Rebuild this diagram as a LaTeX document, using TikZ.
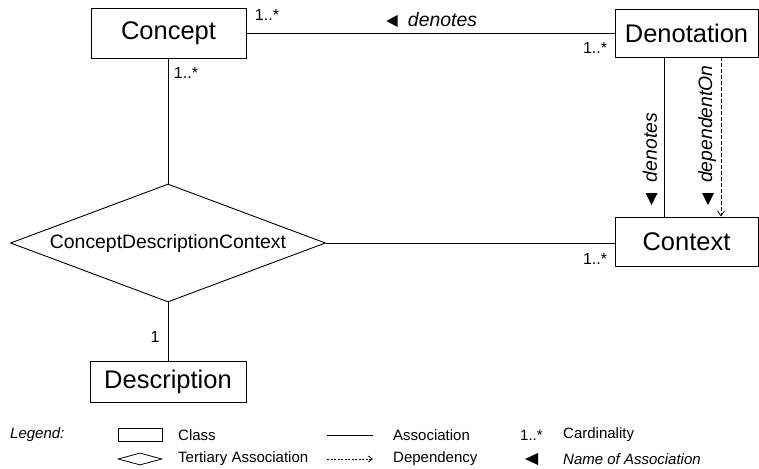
\documentclass[tikz,border=0pt]{standalone}
\usepackage{fontspec}
\setmainfont{Liberation Sans}
\usetikzlibrary{shapes.geometric,arrows.meta}
\tikzset{
  classbox/.style={draw,line width=0.9pt,fill=white,inner sep=0pt,font=\fontsize{25.5}{30}\selectfont},
  card/.style={inner sep=0pt,font=\fontsize{16}{19}\selectfont},
  assocname/.style={inner sep=0pt,font=\fontsize{19.4}{23}\selectfont\itshape},
  legtext/.style={inner sep=0pt,anchor=west,font=\fontsize{15}{18}\selectfont},
  assoc/.style={line width=0.9pt},
  dep/.style={line width=0.9pt,dash pattern=on 4pt off 2pt,-{Straight Barb[length=5pt,width=7pt,line width=0.8pt]}},
  legdep/.style={line width=0.9pt,dash pattern=on 2pt off 1.5pt,-{Straight Barb[length=4pt,width=6pt,line width=0.8pt]}},
}
\begin{document}
\begin{tikzpicture}[x=1pt,y=-1pt]
\useasboundingbox (0,0) rectangle (759,468);
% classes
\node[classbox,minimum width=155pt,minimum height=50pt] (concept) at (168.5,33) {Concept};
\node[classbox,minimum width=143pt,minimum height=48pt] (denot) at (686.5,33) {Denotation};
\node[classbox,minimum width=143pt,minimum height=49pt] (context) at (686.5,241.5) {Context};
\node[classbox,minimum width=156pt,minimum height=41pt] (descr) at (168,381.5) {Description};
\node[draw,line width=0.9pt,diamond,aspect=2.67,inner sep=0pt,minimum width=315pt,minimum height=118pt,
      font=\fontsize{19.4}{23}\selectfont] (cdc) at (168,243) {ConceptDescriptionContext};
% helper coordinates
\coordinate (xa) at (664,0);
\coordinate (xd) at (721,0);
% connectors
\draw[assoc] (concept.east) -- (denot.west);
\draw[assoc] (concept.south -| cdc.north) -- (cdc.north);
\draw[assoc] (cdc.south) -- (descr.north);
\draw[assoc] (cdc.east) -- (cdc.east -| context.west);
\draw[assoc] (denot.south -| xa) -- (context.north -| xa);
\draw[dep] (denot.south -| xd) -- (context.north -| xd);
% cardinalities
\node[card] (c1) at (267,15) {1..*};
\node[card] (c2) at (595,48) {1..*};
\node[card] (c3) at (186,73) {1..*};
\node[card] (c4) at (595,259) {1..*};
\node[card] (c5) at (155,337) {1};
% association names
\node[assocname] (n1) at (442.5,20) {denotes};
\fill (386.5,21) -- (397.5,15) -- (397.5,27) -- cycle;
\node[assocname,rotate=90] (n2) at (650,147.5) {denotes};
\fill (645.5,193) -- (657.5,193) -- (651.5,205) -- cycle;
\node[assocname,rotate=90] (n3) at (707,124) {dependentOn};
\fill (702,193) -- (714,193) -- (708,205) -- cycle;
% legend
\node[legtext,font=\fontsize{15}{18}\selectfont\itshape] (lg) at (10,435) {Legend:};
\node[draw,line width=0.8pt,inner sep=0pt,minimum width=44pt,minimum height=13pt] (lclass) at (140,435) {};
\node[legtext] (lclasst) at (178,435) {Class};
\node[draw,line width=0.8pt,diamond,aspect=3.6,inner sep=0pt,minimum width=44pt,minimum height=12pt] (ldia) at (140,459) {};
\node[legtext] (ldiat) at (178,459) {Tertiary Association};
\coordinate (la1) at (327,435);
\coordinate (la2) at (373,435);
\draw[assoc] (la1) -- (la2);
\node[legtext] (lasst) at (393,435) {Association};
\coordinate (ld1) at (327,459);
\coordinate (ld2) at (373,459);
\draw[legdep] (ld1) -- (ld2);
\node[legtext] (ldept) at (393,459) {Dependency};
\node[legtext] (lcard) at (520,435) {1..*};
\node[legtext] (lcardt) at (563,435) {Cardinality};
\fill (525,459) -- (538,453) -- (538,465) -- cycle;
\node[legtext,font=\fontsize{15}{18}\selectfont\itshape] (lnamet) at (563,459) {Name of Association};
\end{tikzpicture}
\end{document}
